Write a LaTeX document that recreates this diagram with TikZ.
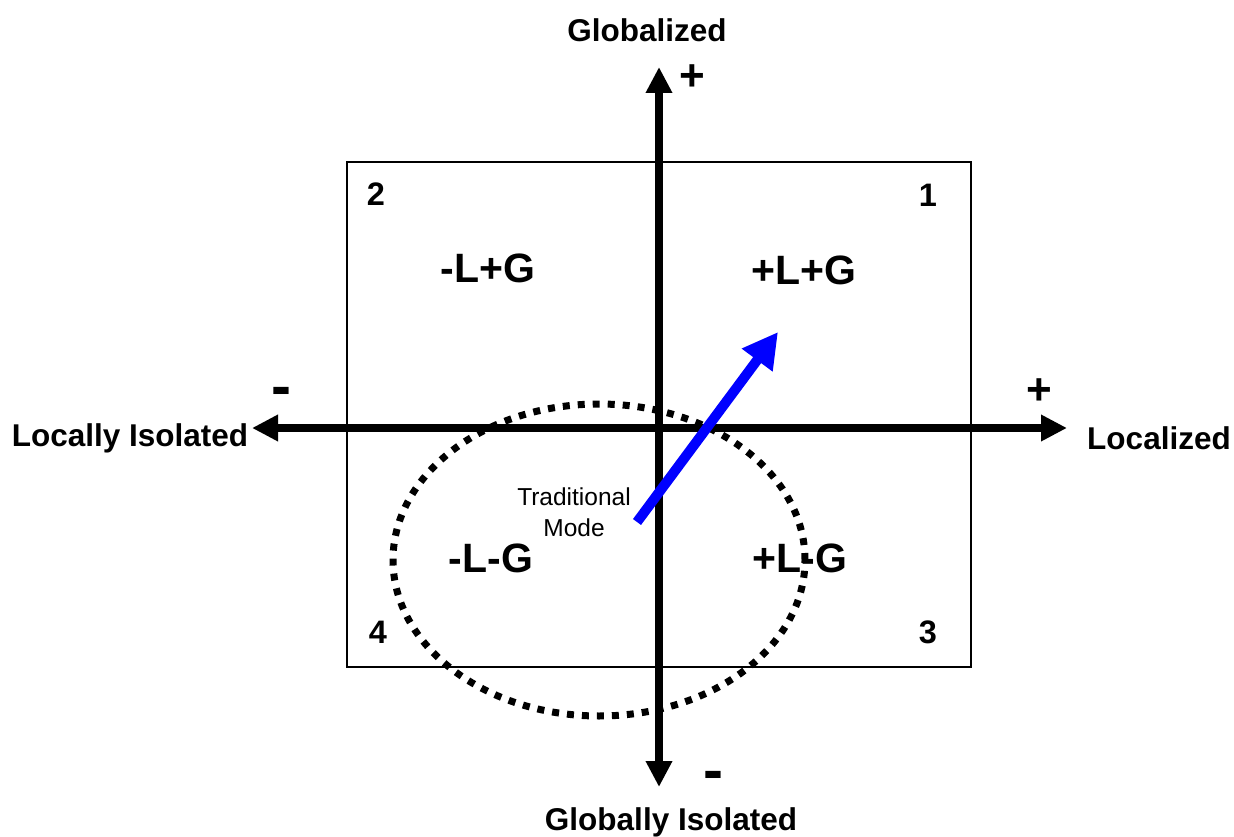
\documentclass[tikz,border=0pt]{standalone}
\usepackage{fontspec}
\setmainfont{Liberation Sans}
\usetikzlibrary{arrows.meta,shapes.geometric}
\begin{document}
\begin{tikzpicture}[x=1pt,y=-1pt,
  axis/.style={line width=8pt,{Triangle[width=25pt,length=26pt]}-{Triangle[width=25pt,length=26pt]}},
  frame/.style={draw,line width=2pt},
  dots/.style={line width=7pt,dash pattern=on 7pt off 8pt},
  trad/.style={draw={rgb,255:red,0;green,0;blue,255},line width=10pt,-{Triangle[width=36pt,length=35pt]}},
  big/.style={font=\fontsize{31.5}{36}\selectfont\bfseries,inner sep=0pt},
  num/.style={font=\fontsize{32.5}{36}\selectfont\bfseries,inner sep=0pt},
  quad/.style={font=\fontsize{41}{48}\selectfont\bfseries,inner sep=0pt},
  sign/.style={font=\fontsize{44}{50}\selectfont\bfseries,inner sep=0pt},
  minus/.style={font=\fontsize{60}{66}\selectfont\bfseries,inner sep=0pt},
  small/.style={font=\fontsize{24.5}{31}\selectfont,align=center,inner sep=0pt}]
\useasboundingbox (0,0) rectangle (1234,837);
\node[frame,minimum width=624pt,minimum height=505pt,inner sep=0pt] (box) at (659,414.5) {};
\node[dots,draw,ellipse,minimum width=412pt,minimum height=312pt,inner sep=0pt] (mode) at (599,560) {};
\coordinate (ybot) at (659,787);
\coordinate (ytop) at (659,67);
\coordinate (xleft) at (252,428);
\coordinate (xright) at (1067,428);
\draw[axis] (ybot) -- (ytop);
\draw[axis] (xleft) -- (xright);
\coordinate (ttail) at (637,522);
\coordinate (ttip) at (778,332);
\draw[trad] (ttail) -- (ttip);
\node[big] (glob) at (647,30) {Globalized};
\node[big] (gisol) at (671,822) {Globally Isolated};
\node[big] (lisol) at (130,438) {Locally Isolated};
\node[big] (loc) at (1159,438) {Localized};
\node[sign] (pt) at (692,78) {+};
\node[sign] (pr) at (1039,392) {+};
\node[minus] (ml) at (281,397) {-};
\node[minus] (mb) at (713,781) {-};
\node[num] (n2) at (376,194) {2};
\node[num] (n1) at (928,195) {1};
\node[num] (n4) at (378,632) {4};
\node[num] (n3) at (928,632) {3};
\node[quad] (q2) at (488,268) {-L+G};
\node[quad] (q1) at (804,270) {+L+G};
\node[quad] (q4) at (491,558) {-L-G};
\node[quad] (q3) at (800,558) {+L-G};
\node[small] (tm) at (574,512) {Traditional\\Mode};
\end{tikzpicture}
\end{document}
